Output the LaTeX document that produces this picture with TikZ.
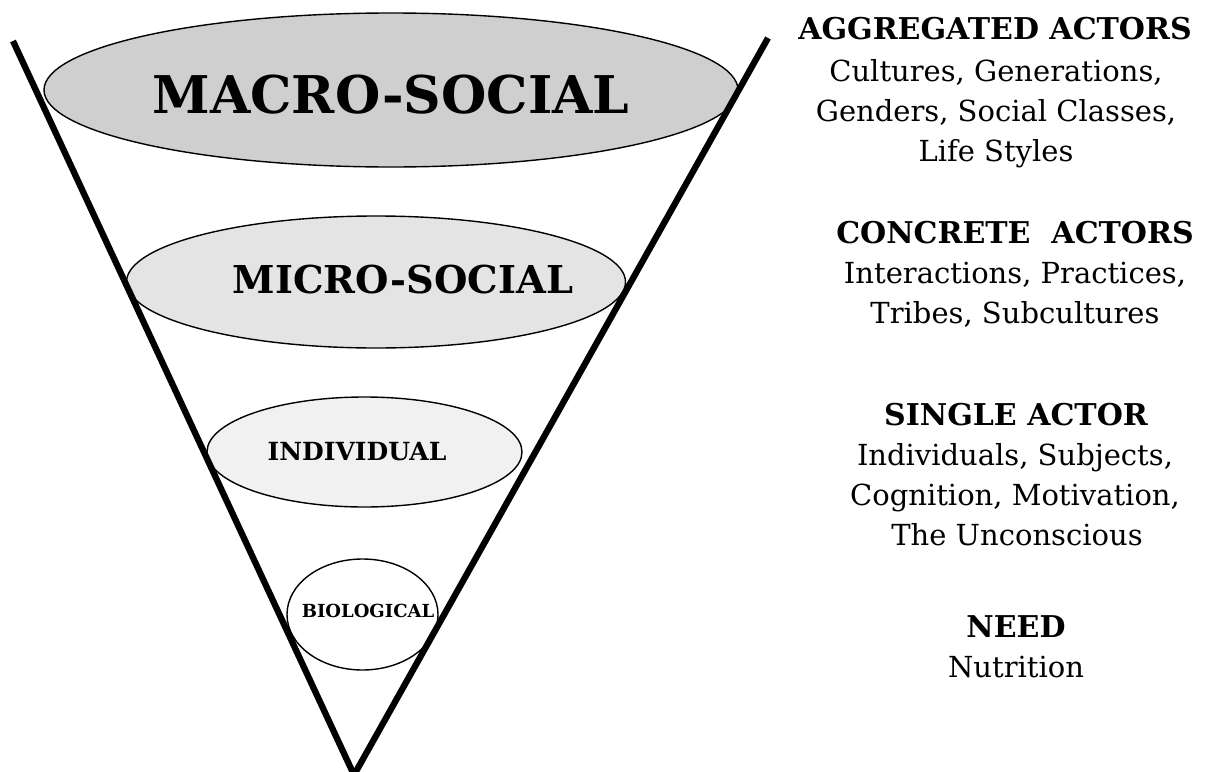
\documentclass[tikz,border=0pt]{standalone}
\usepackage{fontspec}
\setmainfont{DejaVu Serif}
\usetikzlibrary{shapes.geometric}
\definecolor{macrofill}{HTML}{CFCFCF}
\definecolor{microfill}{HTML}{E4E4E4}
\definecolor{indfill}{HTML}{F1F1F1}
\tikzset{
  level/.style={ellipse, draw=black, line width=1.4pt, inner sep=0pt},
  funnel/.style={line width=6.3pt, line cap=butt},
  head/.style={anchor=base, inner sep=0pt, font=\fontsize{30}{40}\selectfont\bfseries},
  body/.style={anchor=base, inner sep=0pt, font=\fontsize{29}{40}\selectfont},
  lab/.style={anchor=base, inner sep=0pt}
}
\begin{document}
\begin{tikzpicture}[x=1pt,y=-1pt]
\useasboundingbox (0,0) rectangle (1207,771);
% ellipses
\node[level, fill=macrofill, minimum width=694pt, minimum height=154pt] (macro) at (391,90) {};
\node[level, fill=microfill, minimum width=499pt, minimum height=132pt] (micro) at (376,282) {};
\node[level, fill=indfill, minimum width=315pt, minimum height=110pt] (ind) at (364.5,452) {};
\node[level, fill=white, minimum width=151pt, minimum height=111pt] (bio) at (362.5,614.5) {};
% labels
\node[lab, font=\fontsize{52}{60}\selectfont\bfseries] (tmacro) at (391,113) {MACRO-SOCIAL};
\node[lab, font=\fontsize{38.4}{44}\selectfont\bfseries] (tmicro) at (403,293) {MICRO-SOCIAL};
\node[lab, font=\fontsize{25}{30}\selectfont\bfseries] (tind) at (357,460) {INDIVIDUAL};
\node[lab, font=\fontsize{18}{22}\selectfont\bfseries] (tbio) at (368,617) {BIOLOGICAL};
% funnel
\coordinate (apex) at (354,775);
\coordinate (ltop) at (13,41);
\coordinate (rtop) at (768,38);
\draw[funnel] (ltop) -- (apex) -- (rtop);
% right side texts
\node[head] (a0) at (995,39) {AGGREGATED ACTORS};
\node[body] (a1) at (996,81) {Cultures, Generations,};
\node[body] (a2) at (996,121) {Genders, Social Classes,};
\node[body] (a3) at (996,161) {Life Styles};
\node[head] (c0) at (1015,243) {CONCRETE\ \ ACTORS};
\node[body] (c1) at (1015,283) {Interactions, Practices,};
\node[body] (c2) at (1015,323) {Tribes, Subcultures};
\node[head] (s0) at (1016,425) {SINGLE ACTOR};
\node[body] (s1) at (1015,465) {Individuals, Subjects,};
\node[body] (s2) at (1015,505) {Cognition, Motivation,};
\node[body] (s3) at (1017,545) {The Unconscious};
\node[head] (n0) at (1016,637) {NEED};
\node[body] (n1) at (1016,677) {Nutrition};
\end{tikzpicture}
\end{document}
